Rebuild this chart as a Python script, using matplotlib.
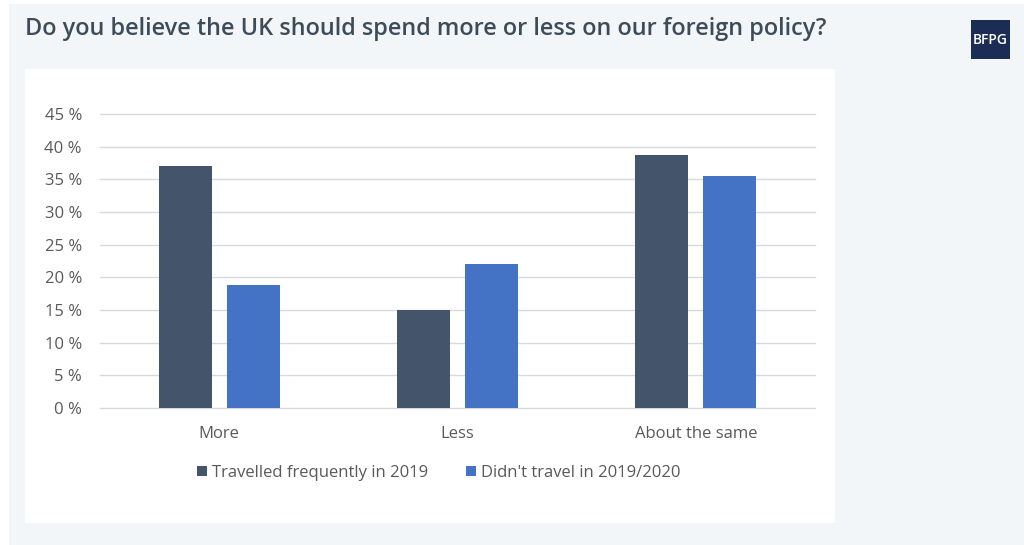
import matplotlib.pyplot as plt
from matplotlib.patches import Rectangle
import numpy as np

# === DATA ===
categories = ["More", "Less", "About the same"]
travelled = [37.0, 15.0, 38.8]
no_travel = [18.8, 22.1, 35.5]
series_names = ["Travelled frequently in 2019", "Didn't travel in 2019/2020"]
yticks = list(range(0, 50, 5))
ytick_labels = [f"{t} %" for t in yticks]

title = "Do you believe the UK should spend more or less on our foreign policy?"

# === STYLE ===
dark = "#44546a"
blue = "#4472c4"
bg = "#f2f6f9"
text_col = "#595959"
plt.rcParams["font.family"] = ["Open Sans", "DejaVu Sans"]

W, H = 1024, 545
fig = plt.figure(figsize=(W / 100, H / 100), dpi=100)
fig.patch.set_facecolor("white")

# outer light panel + white chart card (behind the axes)
fig.patches.append(Rectangle((9 / W, 0), 1 - 9 / W, 1 - 4 / H, transform=fig.transFigure,
                             facecolor=bg, edgecolor="none", zorder=-3))
fig.patches.append(Rectangle((25 / W, 1 - 523 / H), 810 / W, 454 / H, transform=fig.transFigure,
                             facecolor="white", edgecolor="none", zorder=-2))

fig.text(25 / W, 1 - 29 / H, title, fontsize=16.9, fontweight="semibold",
         color="#3e4c59", va="center", ha="left")

# logo
fig.patches.append(Rectangle((971 / W, 1 - 59 / H), 39 / W, 39 / H, transform=fig.transFigure,
                             facecolor="#1c2d55", edgecolor="none", zorder=-1))
fig.text(990.5 / W, 1 - 40 / H, "BFPG", fontsize=10, fontweight="semibold",
         color="white", ha="center", va="center")

# === PLOT ===
ax = fig.add_axes([100 / W, 1 - 408 / H, 715 / W, (408 - 114) / H])
ax.set_zorder(1)
ax.set_facecolor("none")
x = np.arange(len(categories))
bw = 0.223
off = 0.143
ax.bar(x - off, travelled, bw, color=dark, label=series_names[0], zorder=3)
ax.bar(x + off, no_travel, bw, color=blue, label=series_names[1], zorder=3)

ax.set_xlim(-0.5, 2.5)
ax.set_ylim(0, 45)
ax.set_yticks(yticks)
ax.set_yticklabels(ytick_labels)
ax.set_xticks(x)
ax.set_xticklabels(categories)
ax.tick_params(axis="both", length=0, labelsize=12, labelcolor=text_col)
ax.tick_params(axis="y", pad=13)
ax.tick_params(axis="x", pad=13)
ax.grid(axis="y", color="#d9d9d9", linewidth=1, zorder=0, clip_on=False)
for gl in ax.get_ygridlines():
    gl.set_clip_on(False)
for s in ax.spines.values():
    s.set_visible(False)

leg = ax.legend(loc="center", bbox_to_anchor=(439 / W, 1 - 473 / H), bbox_transform=fig.transFigure,
                ncol=2, frameon=False, fontsize=12, handlelength=0.6, handleheight=0.6,
                handletextpad=0.3, columnspacing=2.3)
for t in leg.get_texts():
    t.set_color(text_col)

fig.savefig("out.png", dpi=100, facecolor=fig.get_facecolor())
